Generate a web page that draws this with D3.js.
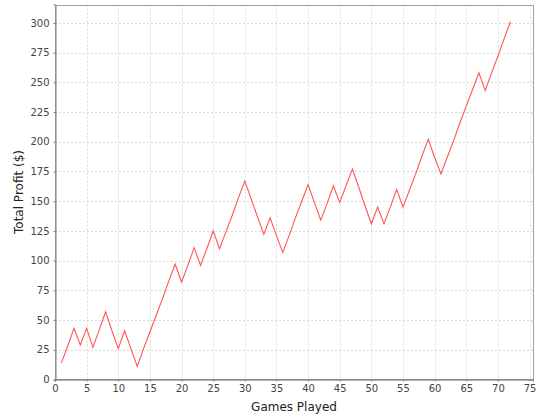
<!DOCTYPE html>
<html><head><meta charset="utf-8">
<script src="https://cdn.jsdelivr.net/npm/d3@7"></script>
<style>
body{margin:0;background:#fff;}
svg{display:block;}
.tick text{font-family:"DejaVu Sans",sans-serif;font-size:10px;fill:#444;}
</style></head><body>
<svg id="chart" width="540" height="420"></svg>
<script>
const games = d3.range(1, 73);
const profit = [14,28,43,29,43,27,42,57,41,26,41,26,11,26,40,54,68,83,97,82,
  96,111,96,110,125,110,124,138,153,167,152,137,122,136,121,107,121,136,150,164,
  149,134,148,163,149,163,177,162,146,131,145,131,145,160,145,159,173,188,202,187,
  173,187,201,216,230,244,258,243,258,272,287,301];
const xTicks = d3.range(0, 76, 5);
const yTicks = d3.range(0, 301, 25);
const xLabel = "Games Played";
const yLabel = "Total Profit ($)";

const data = games.map((g, i) => ({g, v: profit[i]}));
const svg = d3.select("#chart");
const m = {l:55, r:533, t:4.5, b:379.5};
const x = d3.scaleLinear().domain([0, 75.55]).range([m.l, m.r]);
const y = d3.scaleLinear().domain([0, 315.5]).range([m.b, m.t]);

// gridlines
const grid = svg.append("g");
grid.selectAll(".vx").data(xTicks).join("line")
  .attr("x1", d => Math.round(x(d)) + 0.5).attr("x2", d => Math.round(x(d)) + 0.5)
  .attr("y1", m.t).attr("y2", m.b)
  .attr("stroke", "#d9d9d9").attr("stroke-width", 1).attr("stroke-dasharray", "2,2");
grid.selectAll(".hy").data(yTicks).join("line")
  .attr("y1", d => Math.round(y(d)) + 0.5).attr("y2", d => Math.round(y(d)) + 0.5)
  .attr("x1", m.l).attr("x2", m.r)
  .attr("stroke", "#d9d9d9").attr("stroke-width", 1).attr("stroke-dasharray", "2,2");

// plot outline
svg.append("rect").attr("x", m.l + 0.5).attr("y", Math.round(m.t) + 0.5)
  .attr("width", Math.round(m.r - m.l)).attr("height", Math.round(m.b - m.t) - 1)
  .attr("fill", "none").attr("stroke", "#a0a0a0");

// line
svg.append("path").datum(data)
  .attr("d", d3.line().x(d => x(d.g)).y(d => y(d.v)))
  .attr("fill", "none").attr("stroke", "#ff5555").attr("stroke-width", 1.1);

// axes
const xAxis = svg.append("g").attr("transform", `translate(0,${Math.round(m.b) - 0.5})`)
  .call(d3.axisBottom(x).tickValues(xTicks).tickSize(2).tickPadding(3));
xAxis.select(".domain").attr("stroke", "#707088");
xAxis.selectAll(".tick line").attr("stroke", "#808080");

const yAxis = svg.append("g").attr("transform", `translate(${m.l + 0.5},0)`)
  .call(d3.axisLeft(y).tickValues(yTicks).tickSize(2).tickPadding(4));
yAxis.select(".domain").attr("stroke", "#808080");
yAxis.selectAll(".tick line").attr("stroke", "#808080");

svg.append("text").attr("x", (m.l + m.r) / 2).attr("y", 411)
  .attr("text-anchor", "middle").attr("font-family", "DejaVu Sans, sans-serif")
  .attr("font-size", 12).attr("fill", "#222").text(xLabel);
svg.append("text").attr("transform", `translate(23,${(m.t + m.b) / 2}) rotate(-90)`)
  .attr("text-anchor", "middle").attr("font-family", "DejaVu Sans, sans-serif")
  .attr("font-size", 12).attr("fill", "#222").text(yLabel);
</script>
</body></html>
